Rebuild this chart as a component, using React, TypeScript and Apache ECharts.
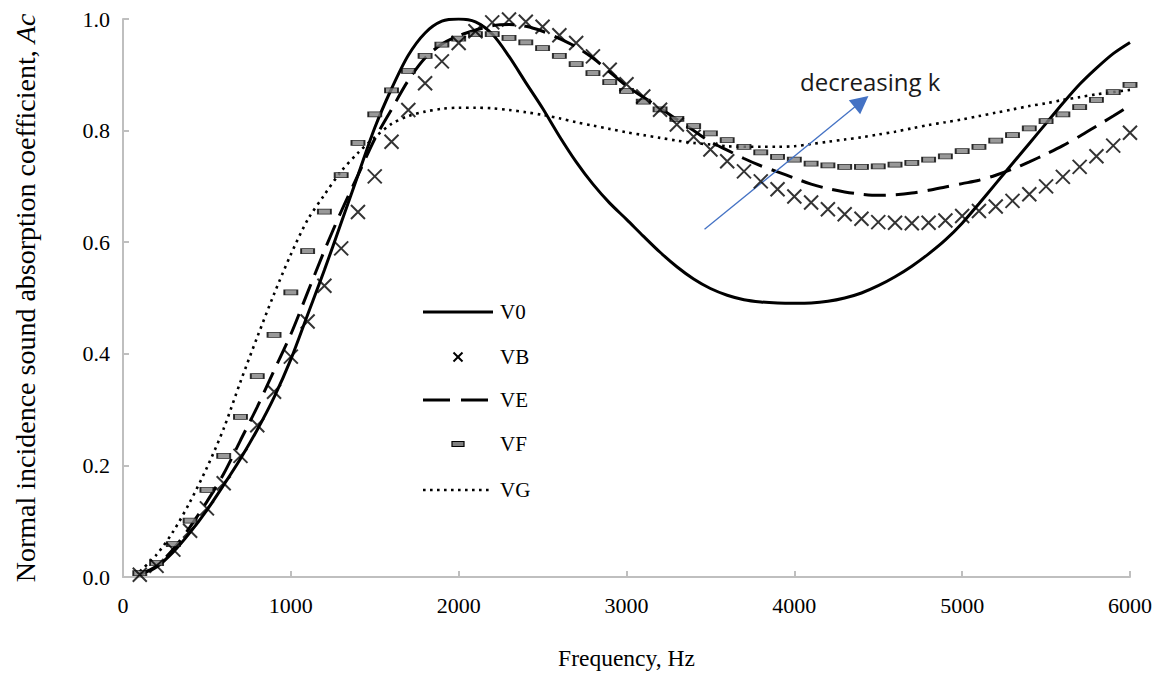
import React, { useEffect, useRef } from "react";
import * as echarts from "echarts";

const freqs = [
  100, 200, 300, 400, 500, 600, 700, 800, 900, 1000,
  1100, 1200, 1300, 1400, 1500, 1600, 1700, 1800, 1900, 2000,
  2100, 2200, 2300, 2400, 2500, 2600, 2700, 2800, 2900, 3000,
  3100, 3200, 3300, 3400, 3500, 3600, 3700, 3800, 3900, 4000,
  4100, 4200, 4300, 4400, 4500, 4600, 4700, 4800, 4900, 5000,
  5100, 5200, 5300, 5400, 5500, 5600, 5700, 5800, 5900, 6000,
];

const v0 = [
  0.005, 0.018, 0.045, 0.08, 0.12, 0.165, 0.212, 0.264, 0.322, 0.39,
  0.47, 0.55, 0.635, 0.72, 0.805, 0.875, 0.935, 0.975, 0.996, 1.0,
  0.995, 0.973, 0.933, 0.886, 0.84, 0.79, 0.744, 0.704, 0.67, 0.641,
  0.611, 0.582, 0.556, 0.534, 0.517, 0.505, 0.497, 0.493, 0.491, 0.4905,
  0.491, 0.494, 0.5, 0.509, 0.522, 0.538, 0.557, 0.579, 0.604, 0.634,
  0.669, 0.705, 0.741, 0.777, 0.813, 0.849, 0.883, 0.912, 0.938, 0.958,
];

const vb = [
  0.004, 0.02, 0.049, 0.083, 0.123, 0.168, 0.217, 0.272, 0.332, 0.395,
  0.458, 0.522, 0.589, 0.654, 0.718, 0.78, 0.837, 0.885, 0.924, 0.957,
  0.978, 0.994, 0.999, 0.995, 0.986, 0.971, 0.957, 0.933, 0.909, 0.883,
  0.861, 0.8375, 0.811, 0.789, 0.766, 0.745, 0.727, 0.709, 0.695, 0.682,
  0.671, 0.659, 0.65, 0.642, 0.636, 0.635, 0.634, 0.635, 0.639, 0.647,
  0.656, 0.664, 0.674, 0.686, 0.7, 0.717, 0.735, 0.754, 0.773, 0.796,
];

const ve = [
  0.005, 0.02, 0.05, 0.09, 0.135, 0.185, 0.245, 0.305, 0.37, 0.435,
  0.51, 0.585, 0.655, 0.72, 0.785, 0.838, 0.89, 0.93, 0.955, 0.97,
  0.98, 0.988, 0.99, 0.987, 0.978, 0.965, 0.95, 0.93, 0.905, 0.88,
  0.86, 0.84, 0.82, 0.8, 0.78, 0.765, 0.75, 0.737, 0.726, 0.715,
  0.704, 0.696, 0.69, 0.686, 0.684, 0.685, 0.688, 0.693, 0.699, 0.705,
  0.711, 0.72, 0.731, 0.744, 0.758, 0.773, 0.79, 0.808, 0.826, 0.845,
];

const vf = [
  0.007, 0.025, 0.059, 0.101, 0.156, 0.217, 0.287, 0.36, 0.434, 0.51,
  0.584, 0.655, 0.72, 0.778, 0.829, 0.872, 0.907, 0.934, 0.954, 0.965,
  0.973, 0.973, 0.966, 0.958, 0.948, 0.934, 0.919, 0.903, 0.887, 0.871,
  0.852, 0.838, 0.821, 0.808, 0.795, 0.783, 0.771, 0.761, 0.753, 0.748,
  0.741, 0.7375, 0.735, 0.735, 0.736, 0.739, 0.742, 0.748, 0.754, 0.763,
  0.771, 0.782, 0.792, 0.804, 0.817, 0.829, 0.842, 0.855, 0.869, 0.882,
];

const vg = [
  0.01, 0.04, 0.082, 0.135, 0.196, 0.266, 0.35, 0.43, 0.507, 0.578,
  0.64, 0.685, 0.727, 0.76, 0.788, 0.812, 0.826, 0.834, 0.839, 0.841,
  0.841, 0.84, 0.837, 0.833, 0.828, 0.822, 0.815, 0.809, 0.803, 0.797,
  0.792, 0.787, 0.782, 0.778, 0.775, 0.772, 0.771, 0.771, 0.771, 0.772,
  0.776, 0.78, 0.784, 0.788, 0.793, 0.798, 0.804, 0.81, 0.815, 0.82,
  0.826, 0.832, 0.838, 0.844, 0.849, 0.855, 0.86, 0.865, 0.869, 0.873,
];

const arrowStart = [3465, 0.623];
const arrowEnd = [4400, 0.852];

const serif = '"Liberation Serif", "Times New Roman", serif';

export default function App() {
  const ref = useRef<HTMLDivElement>(null);

  useEffect(() => {
    const chart = echarts.init(ref.current!, null, { renderer: "svg" });
    const pair = (arr: number[]) => freqs.map((f, i) => [f, arr[i]]);
    const axisGray = "#bfbfbf";

    const legendText = (label: string, y: number) => ({
      type: "text",
      x: 500,
      y,
      style: {
        text: label,
        fontSize: 21,
        fontFamily: serif,
        fill: "#000",
        verticalAlign: "middle",
      },
    });

    const option: any = {
      animation: false,
      backgroundColor: "#ffffff",
      grid: { left: 123, right: 30, top: 19, bottom: 96 },
      xAxis: {
        type: "value",
        min: 0,
        max: 6000,
        interval: 1000,
        name: "Frequency, Hz",
        nameLocation: "middle",
        nameGap: 69,
        nameTextStyle: { fontFamily: serif, fontSize: 23.5, color: "#000" },
        axisLine: { show: true, lineStyle: { color: axisGray, width: 2 } },
        axisTick: { show: true, inside: true, length: 6, lineStyle: { color: axisGray, width: 2 } },
        axisLabel: {
          fontFamily: serif,
          fontSize: 22,
          color: "#000",
          margin: 17,
          formatter: (v: number) => String(v),
        },
        splitLine: { show: false },
      },
      yAxis: {
        type: "value",
        min: 0,
        max: 1,
        interval: 0.2,
        name: "Normal incidence sound absorption coefficient, {i|Ac}",
        nameLocation: "middle",
        nameGap: 84,
        nameTextStyle: {
          fontFamily: serif,
          fontSize: 28,
          color: "#000",
          rich: { i: { fontFamily: serif, fontSize: 28, fontStyle: "italic", color: "#000" } },
        },
        axisLine: { show: true, lineStyle: { color: axisGray, width: 2 } },
        axisTick: { show: true, inside: true, length: 6, lineStyle: { color: axisGray, width: 2 } },
        axisLabel: {
          fontFamily: serif,
          fontSize: 22,
          color: "#000",
          margin: 13,
          formatter: (v: number) => v.toFixed(1),
        },
        splitLine: { show: false },
      },
      series: [
        {
          name: "VG",
          type: "line",
          smooth: 0.3,
          symbol: "none",
          data: pair(vg),
          lineStyle: { color: "#000", width: 2.6, type: [2.6, 4.6] },
          z: 2,
        },
        {
          name: "VE",
          type: "line",
          smooth: 0.3,
          symbol: "none",
          data: pair(ve),
          lineStyle: { color: "#000", width: 3, type: [22, 10] },
          z: 2,
        },
        {
          name: "V0",
          type: "line",
          smooth: 0.3,
          symbol: "none",
          data: pair(v0),
          lineStyle: { color: "#000", width: 3 },
          z: 3,
          markLine: {
            silent: true,
            symbol: ["none", "triangle"],
            symbolSize: 18,
            label: { show: false },
            lineStyle: { color: "#4472C4", width: 1.3, type: "solid" },
            itemStyle: { color: "#4472C4" },
            data: [[{ coord: arrowStart }, { coord: arrowEnd }]],
          },
        },
        {
          name: "VF",
          type: "scatter",
          symbol: "rect",
          symbolSize: [13, 5],
          data: pair(vf),
          itemStyle: { color: "#808080", borderColor: "#000", borderWidth: 1.2 },
          z: 4,
        },
        {
          name: "VB",
          type: "scatter",
          symbol: "path://M0,0L10,10M10,0L0,10",
          symbolSize: 14,
          data: pair(vb),
          itemStyle: { color: "rgba(0,0,0,0)", borderColor: "#000", borderWidth: 2 },
          z: 5,
        },
      ],
      graphic: [
        { type: "line", shape: { x1: 423, y1: 312, x2: 493, y2: 312 }, style: { stroke: "#000", lineWidth: 3 } },
        legendText("V0", 312),
        { type: "line", shape: { x1: 453.5, y1: 352.5, x2: 462.5, y2: 361.5 }, style: { stroke: "#000", lineWidth: 2 } },
        { type: "line", shape: { x1: 462.5, y1: 352.5, x2: 453.5, y2: 361.5 }, style: { stroke: "#000", lineWidth: 2 } },
        legendText("VB", 357),
        { type: "line", shape: { x1: 423, y1: 400, x2: 493, y2: 400 }, style: { stroke: "#000", lineWidth: 3, lineDash: [27, 11] } },
        legendText("VE", 400),
        { type: "rect", shape: { x: 452, y: 441.5, width: 12, height: 5 }, style: { fill: "#808080", stroke: "#000", lineWidth: 1.2 } },
        legendText("VF", 444),
        { type: "line", shape: { x1: 423, y1: 490, x2: 493, y2: 490 }, style: { stroke: "#000", lineWidth: 2.6, lineDash: [2.6, 4.4] } },
        legendText("VG", 490),
        {
          type: "text",
          x: 800,
          y: 81,
          style: {
            text: "decreasing k",
            fontSize: 24,
            fontFamily: '"Open Sans", "Noto Sans", sans-serif',
            fill: "#1a1a1a",
            verticalAlign: "middle",
          },
        },
      ],
    };

    chart.setOption(option);
    return () => chart.dispose();
  }, []);

  return (
    <div
      ref={ref}
      style={{ position: "fixed", left: 0, top: 0, width: 1160, height: 675, background: "#fff" }}
    />
  );
}
